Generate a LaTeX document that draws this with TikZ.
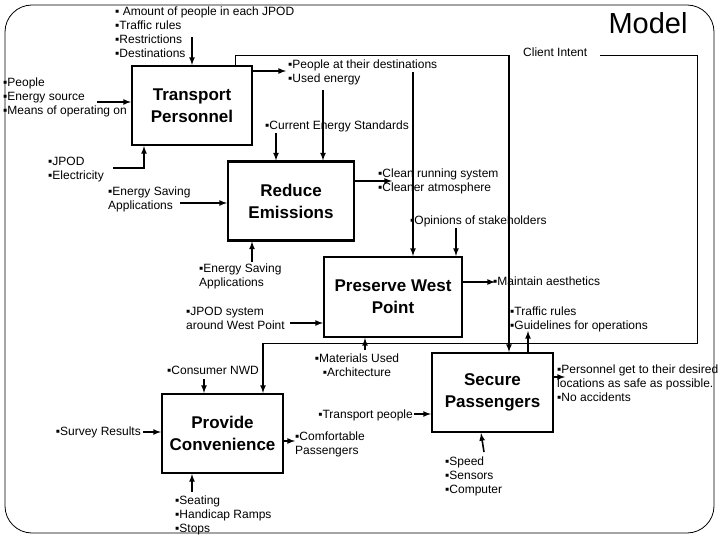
\documentclass[tikz,border=0pt]{standalone}
\usepackage{fontspec}
\setmainfont{Liberation Sans}
\usepackage{tikz}
\usetikzlibrary{arrows,positioning}
\tikzstyle{boxstyle}=[draw,line width=2.2pt,minimum width=120pt,minimum height=79pt,align=center,inner sep=2pt,font=\fontsize{17}{22}\selectfont\bfseries]
\tikzstyle{textstyle}=[inner sep=0pt,align=left,anchor=north west,font=\fontsize{12}{14}\selectfont]
\tikzstyle{flow}=[line width=1.6pt,-latex]
\tikzstyle{thinline}=[line width=0.8pt]

\begin{document}
\begin{tikzpicture}[x=1pt,y=-1pt]
	\useasboundingbox (0,0) rectangle (720,540);
	\draw[thinline,rounded corners=27pt] (5,5) rectangle (714,533);
	\node[font=\fontsize{29}{34}\selectfont] (model) at (648,23) {Model};

	\node[boxstyle]	(tp)	at (192,105.5)	{Transport\\Personnel};
	\node[boxstyle,minimum width=126pt]	(re)	at (291,201)	{Reduce\\Emissions};
	\node[boxstyle,minimum width=138pt,minimum height=80pt]	(pwp)	at (393,297)	{Preserve West\\Point};
	\node[boxstyle,minimum width=121pt]	(sp)	at (492.5,392.5)	{Secure\\Passengers};
	\node[boxstyle,minimum width=121pt]	(pc)	at (222.5,433.5)	{Provide\\Convenience};

	\node[textstyle]	(tpctrl)	at (115,7)	{▪ Amount of people in each JPOD\\▪Traffic rules\\▪Restrictions\\▪Destinations};
	\node[textstyle]	(tpin)	at (3,77.5)	{▪People\\▪Energy source\\▪Means of operating on};
	\node[textstyle]	(tpout)	at (288,59.5)	{▪People at their destinations\\▪Used energy};
	\node[textstyle]	(stand)	at (265,120.5)	{▪Current Energy Standards};
	\node[textstyle]	(ci)	at (523,48)	{Client Intent};
	\node[textstyle]	(tpmech)	at (48,156.5)	{▪JPOD\\▪Electricity};
	\node[textstyle]	(rein)	at (108,186.5)	{▪Energy Saving\\Applications};
	\node[textstyle]	(reout)	at (378,168.5)	{▪Clean running system\\▪Cleaner atmosphere};
	\node[textstyle]	(opin)	at (410,215.5)	{▪Opinions of stakeholders};
	\node[textstyle]	(remech)	at (199,263.5)	{▪Energy Saving\\Applications};
	\node[textstyle]	(pwpin)	at (186,306.5)	{▪JPOD system\\around West Point};
	\node[textstyle]	(pwpout)	at (493,276.5)	{▪Maintain aesthetics};
	\node[textstyle]	(spctrl)	at (510,306.5)	{▪Traffic rules\\▪Guidelines for operations};
	\node[textstyle,align=center,anchor=north]	(pwpmech)	at (357,353.5)	{▪Materials Used\\▪Architecture};
	\node[textstyle]	(pcctrl)	at (167,365.5)	{▪Consumer NWD};
	\node[textstyle,anchor=north east]	(spin)	at (413,409.5)	{▪Transport people};
	\node[textstyle,anchor=north east]	(pcin)	at (141,426.5)	{▪Survey Results};
	\node[textstyle]	(pcout)	at (295,431.5)	{▪Comfortable\\Passengers};
	\node[textstyle]	(spout)	at (557,364.5)	{▪Personnel get to their desired\\locations as safe as possible.\\▪No accidents};
	\node[textstyle]	(spmech)	at (445,456.5)	{▪Speed\\▪Sensors\\▪Computer};
	\node[textstyle]	(pcmech)	at (175,495.5)	{▪Seating\\▪Handicap Ramps\\▪Stops};

	\coordinate (a1) at (192,37);
	\coordinate (i1) at (97,102);
	\coordinate (o1) at (286,71);
	\coordinate (fb1) at (235,55);
	\coordinate (fb2) at (509,55);
	\coordinate (c1) at (276,133);
	\coordinate (c2) at (323,90);
	\coordinate (c3) at (413,72);
	\coordinate (j1) at (113,168);
	\coordinate (j2) at (144,168);
	\coordinate (e1) at (180,203);
	\coordinate (e2) at (392,181);
	\coordinate (s1) at (456,228);
	\coordinate (e3) at (252,262);
	\coordinate (w1) at (290,323);
	\coordinate (m1) at (495,282);
	\coordinate (g1) at (528,331);
	\coordinate (u1) at (365,350);
	\coordinate (n1) at (204,379);
	\coordinate (ci0) at (600,55);
	\coordinate (ci1) at (697,55);
	\coordinate (ci2) at (697,343);
	\coordinate (ci3) at (263,343);
	\coordinate (t1) at (414,414);
	\coordinate (r1) at (143,432);
	\coordinate (q1) at (295,441);
	\coordinate (p1) at (565,377);
	\coordinate (z1) at (484,452);
	\coordinate (h1) at (192,492);

	\draw[flow] (a1) -- (a1 |- tp.north);
	\draw[flow] (i1) -- (i1 -| tp.west);
	\draw[flow] (o1 -| tp.east) -- (o1);
	\draw[thinline] (fb1 |- tp.north) -- (fb1) -- (fb2);
	\draw[flow] (fb2) -- (fb2 |- sp.north);
	\draw[flow] (c1) -- (c1 |- re.north);
	\draw[flow] (c2) -- (c2 |- re.north);
	\draw[flow] (c3) -- (c3 |- pwp.north);
	\draw[flow] (j1) -- (j2) -- (j2 |- tp.south);
	\draw[flow] (e1) -- (e1 -| re.west);
	\draw[flow] (e2 -| re.east) -- (e2);
	\draw[flow] (s1) -- (s1 |- pwp.north);
	\draw[flow] (e3) -- (e3 |- re.south);
	\draw[flow] (w1) -- (w1 -| pwp.west);
	\draw[flow] (m1 -| pwp.east) -- (m1);
	\draw[flow] (g1 |- sp.north) -- (g1);
	\draw[flow] (u1) -- (u1 |- pwp.south);
	\draw[flow] (n1) -- (n1 |- pc.north);
	\draw[thinline] (ci0) -- (ci1) -- (ci2) -- (ci3);
	\draw[flow] (ci3) -- (ci3 |- pc.north);
	\draw[flow] (t1) -- (t1 -| sp.west);
	\draw[flow] (r1) -- (r1 -| pc.west);
	\draw[flow] (q1 -| pc.east) -- (q1);
	\draw[flow] (p1 -| sp.east) -- (p1);
	\draw[flow] (z1) -- ([xshift=-3pt]z1 |- sp.south);
	\draw[flow] (h1) -- (h1 |- pc.south);
\end{tikzpicture}
\end{document}
